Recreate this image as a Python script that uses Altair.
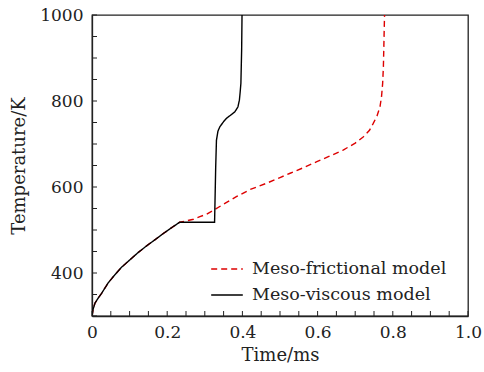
import altair as alt
import pandas as pd

# Meso-viscous model (black solid)
visc_t = [0, 0.003, 0.008, 0.016, 0.025, 0.043, 0.06, 0.078, 0.1, 0.122, 0.145, 0.167,
          0.19, 0.211, 0.233, 0.28, 0.326, 0.327, 0.329, 0.331, 0.335, 0.340, 0.350,
          0.358, 0.370, 0.380, 0.388, 0.392, 0.394, 0.396, 0.397, 0.398, 0.399]
visc_T = [300, 316, 330, 341, 352, 377, 395, 413, 430, 447, 463, 477,
          492, 505, 518, 518, 518, 560, 647, 709, 730, 740, 752,
          760, 768, 775, 786, 802, 820, 841, 880, 919, 1000]

# Meso-frictional model (red dashed)
fric_t = [0, 0.003, 0.008, 0.016, 0.025, 0.043, 0.06, 0.078, 0.1, 0.122, 0.145, 0.167,
          0.19, 0.211, 0.233, 0.25, 0.27, 0.287, 0.305, 0.323, 0.35, 0.385, 0.42,
          0.465, 0.5, 0.527, 0.56, 0.598, 0.63, 0.668, 0.70, 0.722, 0.738, 0.748,
          0.758, 0.766, 0.770, 0.773, 0.775, 0.776, 0.777, 0.778]
fric_T = [300, 316, 330, 341, 352, 377, 395, 413, 430, 447, 463, 477,
          492, 505, 518, 521, 525, 531, 537, 546, 560, 578, 594,
          609, 622, 632, 644, 659, 671, 686, 702, 717, 732, 748,
          765, 787, 810, 841, 880, 919, 960, 1000]

series_names = ["Meso-frictional model", "Meso-viscous model"]
series_colors = ["#dd0000", "#000000"]

x_ticks = [round(i * 0.05, 2) for i in range(21)]
y_ticks = list(range(300, 1001, 50))

rows = []
for i, (t, T) in enumerate(zip(fric_t, fric_T)):
    rows.append({"series": series_names[0], "t": t, "T": T, "i": i})
for i, (t, T) in enumerate(zip(visc_t, visc_T)):
    rows.append({"series": series_names[1], "t": t, "T": T, "i": i})
df = pd.DataFrame(rows)

FONT = "DejaVu Serif"

xscale = alt.Scale(domain=[0, 1.0], nice=False, zero=False)
yscale = alt.Scale(domain=[300, 1000], nice=False, zero=False)

xaxis = alt.Axis(values=x_ticks, ticks=False,
                 labelExpr="abs(datum.value*5 - round(datum.value*5)) < 0.001 ? (datum.value == 0 ? '0' : format(datum.value, '.1f')) : ''",
                 labelPadding=8, grid=False, labelFlush=False,
                 labelFont=FONT, titleFont=FONT, labelFontSize=17, titleFontSize=18,
                 labelColor="#222", titleColor="#222", titleFontWeight="normal",
                 domainColor="#222", domainWidth=1.3, titlePadding=6)
yaxis = alt.Axis(values=y_ticks, ticks=False,
                 labelExpr="datum.value % 200 == 0 && datum.value > 300 ? datum.value : ''",
                 labelPadding=9, grid=False, labelFlush=False,
                 labelFont=FONT, titleFont=FONT, labelFontSize=17, titleFontSize=18,
                 labelColor="#222", titleColor="#222", titleFontWeight="normal",
                 domainColor="#222", domainWidth=1.3, titlePadding=11)

leg = alt.Legend(title=None, orient="none", legendX=118, legendY=237,
                 symbolType="stroke", symbolSize=1000, labelLimit=400,
                 symbolStrokeWidth=1.4, labelFont=FONT, labelFontSize=17.5,
                 labelColor="#222", rowPadding=-12, labelOffset=8)

lines = alt.Chart(df).mark_line(strokeWidth=1.4, clip=True).encode(
    x=alt.X("t:Q", title="Time/ms", scale=xscale, axis=xaxis),
    y=alt.Y("T:Q", title="Temperature/K", scale=yscale, axis=yaxis),
    color=alt.Color("series:N", scale=alt.Scale(domain=series_names, range=series_colors), legend=leg),
    strokeDash=alt.StrokeDash("series:N", scale=alt.Scale(domain=series_names, range=[[6, 4], [1, 0]]),
                              legend=leg),
    order=alt.Order("i:Q"),
)

xtick_df = pd.DataFrame({"t": x_ticks})
ytick_df = pd.DataFrame({"T": y_ticks})

xt = alt.Chart(xtick_df).mark_rule(color="#222", strokeWidth=1).encode(
    x=alt.X("t:Q", title="Time/ms", scale=xscale, axis=xaxis),
    y=alt.value(301), y2=alt.value(296),
)
yt = alt.Chart(ytick_df).mark_rule(color="#222", strokeWidth=1).encode(
    y=alt.Y("T:Q", title="Temperature/K", scale=yscale, axis=yaxis),
    x=alt.value(0), x2=alt.value(5),
)

chart = alt.layer(lines, xt, yt).properties(
    width=376, height=301,
    autosize=alt.AutoSizeParams(type="none"),
    padding={"left": 92, "top": 15, "right": 16, "bottom": 56},
    background="white",
).configure_view(
    stroke="#222", strokeWidth=1.3
)

chart.save("out.html", embed_options={"renderer": "svg", "actions": False})
